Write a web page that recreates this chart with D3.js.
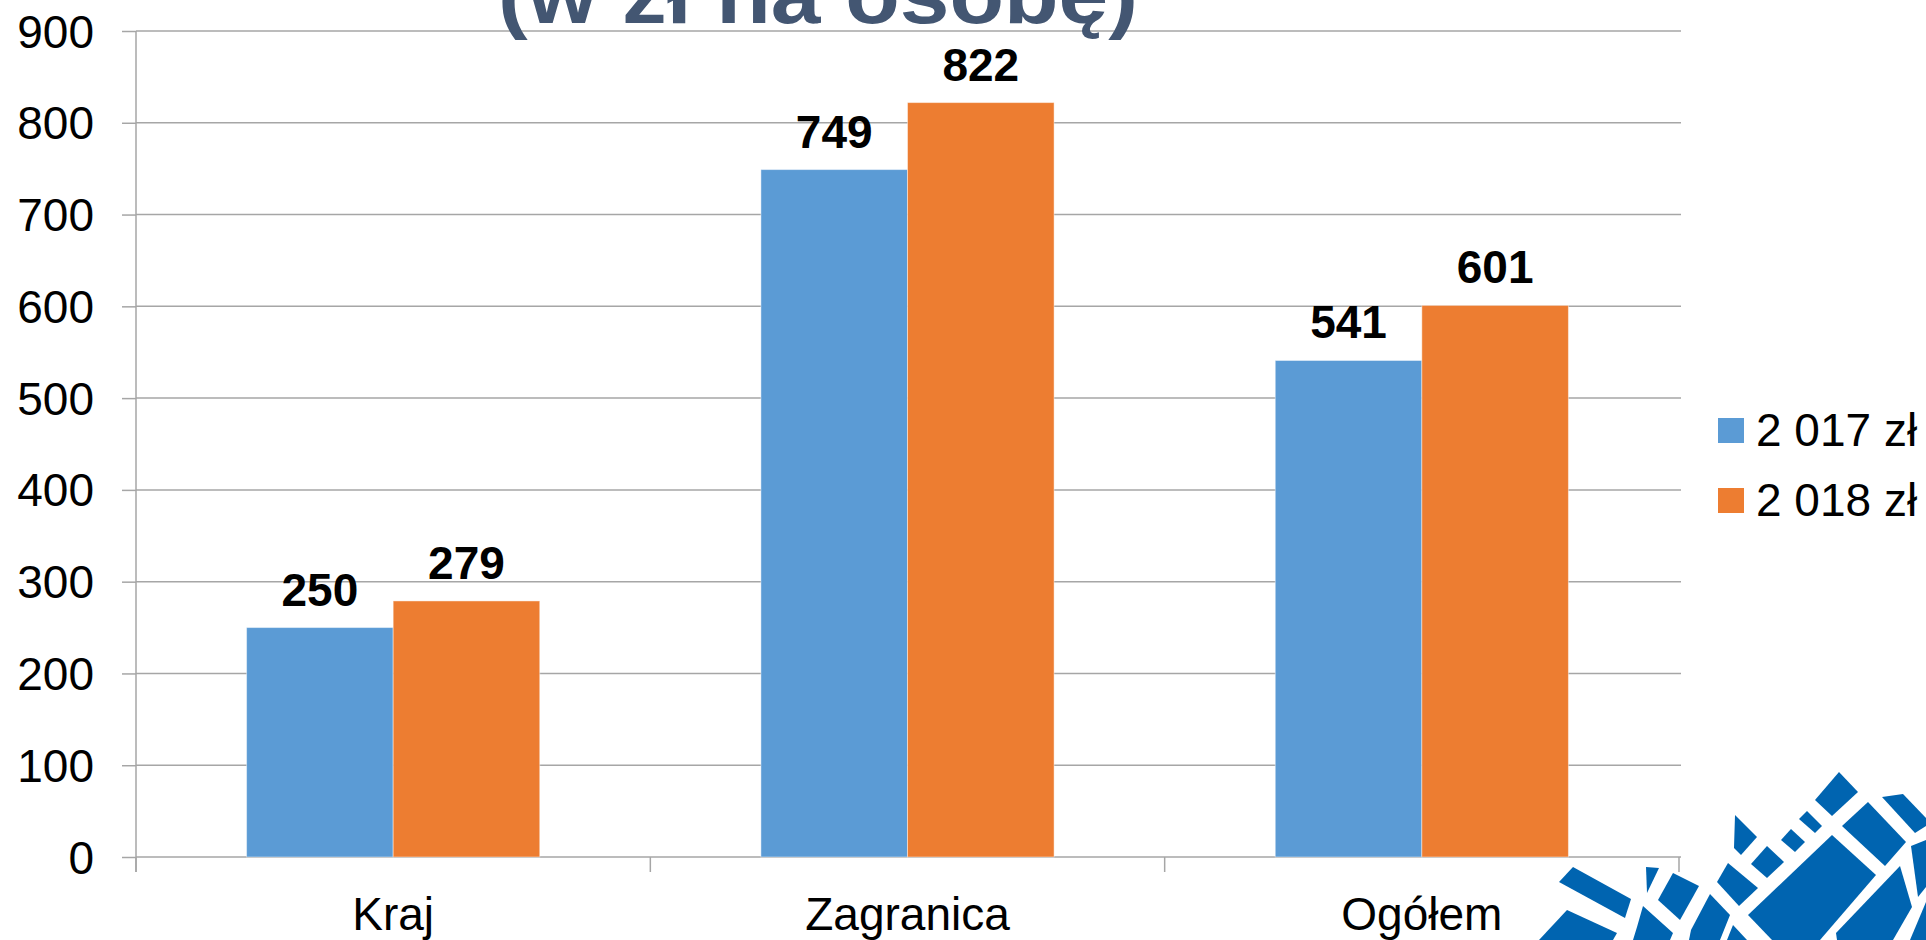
<!DOCTYPE html>
<html>
<head>
<meta charset="utf-8">
<script src="https://cdn.jsdelivr.net/npm/d3@7"></script>
<style>
  body { margin: 0; background: #fff; overflow: hidden; }
  text { font-family: "Liberation Sans", Arial, sans-serif; }
</style>
</head>
<body>
<script>
var width = 1926,
    height = 940;

// chart data
var categories = ["Kraj", "Zagranica", "Ogółem"];
var seriesNames = ["2 017 zł", "2 018 zł"];
var values2017 = [250, 749, 541];
var values2018 = [279, 822, 601];
var yTicks = [0, 100, 200, 300, 400, 500, 600, 700, 800, 900];
var colors = ["#5B9BD5", "#ED7D31"];

var margin = {top: 31, left: 136, right: 1679, bottom: 857};

var svg = d3.select("body").append("svg")
    .attr("width", width)
    .attr("height", height);

var y = d3.scaleLinear()
    .domain([0, 900])
    .range([margin.bottom, margin.top]);

var x0 = d3.scaleBand()
    .domain(categories)
    .range([margin.left, margin.right])
    .paddingInner(0.43)
    .paddingOuter(0.215);

var x1 = d3.scaleBand()
    .domain([0, 1])
    .range([0, x0.bandwidth()]);

var rows = categories.map(function(c, i) {
  return {cat: c, vals: [values2017[i], values2018[i]]};
});

// gridlines + y ticks
var yAxis = svg.append("g")
    .attr("transform", "translate(" + margin.left + ",0)")
    .call(d3.axisLeft(y)
      .tickValues(yTicks)
      .tickSize(14)
      .tickPadding(28)
      .tickFormat(d3.format("d")));
yAxis.select(".domain").remove();
yAxis.selectAll("line").attr("stroke", "#a6a6a6").attr("stroke-width", 1.5);
yAxis.selectAll("text")
    .attr("font-size", 46)
    .attr("fill", "#000")
    .attr("dy", "0.35em");

svg.append("g")
  .selectAll("line")
  .data(yTicks)
  .enter().append("line")
    .attr("x1", margin.left)
    .attr("x2", margin.right + 2)
    .attr("y1", function(d) { return y(d); })
    .attr("y2", function(d) { return y(d); })
    .attr("stroke", "#a6a6a6")
    .attr("stroke-width", 1.5);

// vertical axis line
svg.append("line")
    .attr("x1", margin.left).attr("x2", margin.left)
    .attr("y1", margin.top).attr("y2", margin.bottom + 15)
    .attr("stroke", "#a6a6a6")
    .attr("stroke-width", 1.5);

// category separators
var step = x0.step();
svg.append("g")
  .selectAll("line")
  .data(d3.range(categories.length + 1))
  .enter().append("line")
    .attr("x1", function(i) { return margin.left + i * step; })
    .attr("x2", function(i) { return margin.left + i * step; })
    .attr("y1", margin.bottom)
    .attr("y2", margin.bottom + 15)
    .attr("stroke", "#a6a6a6")
    .attr("stroke-width", 1.5);

// bars
var group = svg.append("g")
  .selectAll("g")
  .data(rows)
  .enter().append("g")
    .attr("transform", function(d) { return "translate(" + x0(d.cat) + ",0)"; });

group.selectAll("rect")
  .data(function(d) { return d.vals; })
  .enter().append("rect")
    .attr("x", function(d, i) { return x1(i); })
    .attr("y", function(d) { return y(d); })
    .attr("width", x1.bandwidth())
    .attr("height", function(d) { return y(0) - y(d); })
    .attr("fill", function(d, i) { return colors[i]; })
    .attr("stroke", "rgba(255,255,255,0.45)")
    .attr("stroke-width", 1);

group.selectAll("text")
  .data(function(d) { return d.vals; })
  .enter().append("text")
    .attr("x", function(d, i) { return x1(i) + x1.bandwidth() / 2; })
    .attr("y", function(d) { return y(d) - 22; })
    .attr("text-anchor", "middle")
    .attr("font-size", 46)
    .attr("font-weight", "bold")
    .attr("fill", "#000")
    .text(function(d) { return d; });

// category labels
svg.append("g")
  .selectAll("text")
  .data(categories)
  .enter().append("text")
    .attr("x", function(d) { return x0(d) + x0.bandwidth() / 2; })
    .attr("y", 930)
    .attr("text-anchor", "middle")
    .attr("font-size", 46)
    .attr("fill", "#000")
    .text(function(d) { return d; });

// legend
var legend = svg.append("g")
  .selectAll("g")
  .data(seriesNames)
  .enter().append("g")
    .attr("transform", function(d, i) { return "translate(1718," + (418 + i * 70) + ")"; });
legend.append("rect")
    .attr("width", 26).attr("height", 25)
    .attr("fill", function(d, i) { return colors[i]; });
legend.append("text")
    .attr("x", 38).attr("y", 28)
    .attr("font-size", 46)
    .attr("fill", "#000")
    .text(function(d) { return d; });

// title (partly outside the picture)
svg.append("text")
    .attr("x", 818)
    .attr("y", 23)
    .attr("text-anchor", "middle")
    .attr("font-size", 82)
    .attr("font-weight", "bold")
    .attr("fill", "#435672")
    .attr("textLength", 640)
    .attr("lengthAdjust", "spacingAndGlyphs")
    .text("(w zł na osobę)");

// logo fragment, bottom right
var logo = [
  [[1839,772],[1858,792],[1832,816],[1815,800]],
  [[1882,797],[1903,794],[1926,818],[1926,826],[1915,833]],
  [[1868,802],[1906,842],[1885,866],[1842,826]],
  [[1807,811],[1822,826],[1815,833],[1799,819]],
  [[1791,829],[1805,842],[1795,852],[1781,840]],
  [[1735,815],[1757,837],[1741,855],[1734,848]],
  [[1767,846],[1784,862],[1767,878],[1751,864]],
  [[1832,835],[1876,875],[1820,940],[1772,940],[1748,915]],
  [[1900,866],[1912,907],[1893,940],[1837,940],[1836,933]],
  [[1926,840],[1911,846],[1918,897],[1926,887]],
  [[1926,902],[1910,940],[1926,940]],
  [[1728,863],[1758,888],[1739,906],[1717,882]],
  [[1710,894],[1730,915],[1720,940],[1689,940],[1691,930]],
  [[1733,925],[1747,940],[1727,940]],
  [[1673,873],[1699,886],[1680,920],[1658,900]],
  [[1646,867],[1659,868],[1647,893]],
  [[1643,906],[1673,933],[1670,940],[1633,940],[1637,927]],
  [[1573,867],[1631,899],[1625,918],[1559,882]],
  [[1567,910],[1617,933],[1613,940],[1539,940]]
];
svg.append("g")
  .selectAll("polygon")
  .data(logo)
  .enter().append("polygon")
    .attr("points", function(d) { return d.join(" "); })
    .attr("fill", "#0064B0");
</script>
</body>
</html>
